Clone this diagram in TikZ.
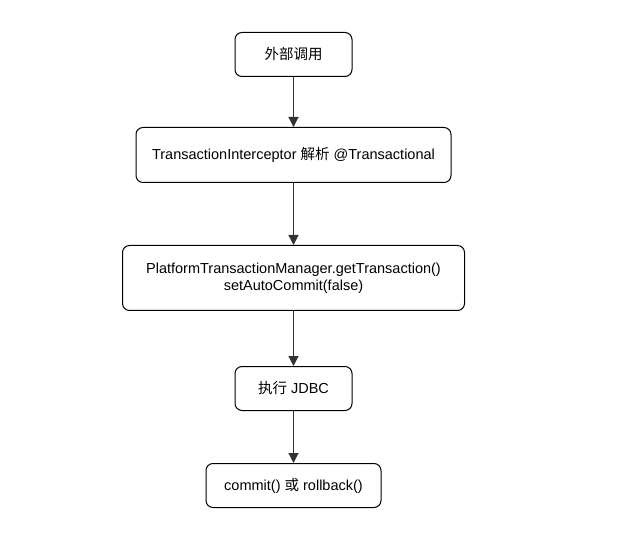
\documentclass[tikz,border=0pt]{standalone}
\usepackage{fontspec}
\setmainfont{Liberation Sans}
\newfontfamily\cjk{Noto Sans CJK SC}
\usetikzlibrary{arrows.meta}
\tikzset{
  stepbox/.style={draw, rounded corners=7pt, line width=1pt, align=center,
    font=\fontsize{14.5pt}{17pt}\selectfont, inner sep=0pt},
  flow/.style={-{Triangle[length=10pt,width=10pt]}, line width=1.2pt, draw=black!80}
}
\begin{document}
\begin{tikzpicture}[x=1pt,y=-1pt]
    \useasboundingbox (0,0) rectangle (627,556);
    % boxes, top to bottom
    \node[stepbox, minimum width=117pt, minimum height=44pt] (call) at (293.5,54.5) {{\cjk 外部调用}};
    \node[stepbox, minimum width=315pt, minimum height=55pt] (intercept) at (293.5,155) {TransactionInterceptor {\cjk 解析} @Transactional};
    \node[stepbox, minimum width=342pt, minimum height=65pt] (manager) at (293.5,278) {PlatformTransactionManager.getTransaction()\\setAutoCommit(false)};
    \node[stepbox, minimum width=117pt, minimum height=44pt] (jdbc) at (293.5,388.5) {{\cjk 执行} JDBC};
    \node[stepbox, minimum width=175pt, minimum height=44pt] (finish) at (293.5,485.5) {commit() {\cjk 或} rollback()};
    % arrows
    \draw[flow] (call) -- (intercept);
    \draw[flow] (intercept) -- (manager);
    \draw[flow] (manager) -- (jdbc);
    \draw[flow] (jdbc) -- (finish);
\end{tikzpicture}
\end{document}
